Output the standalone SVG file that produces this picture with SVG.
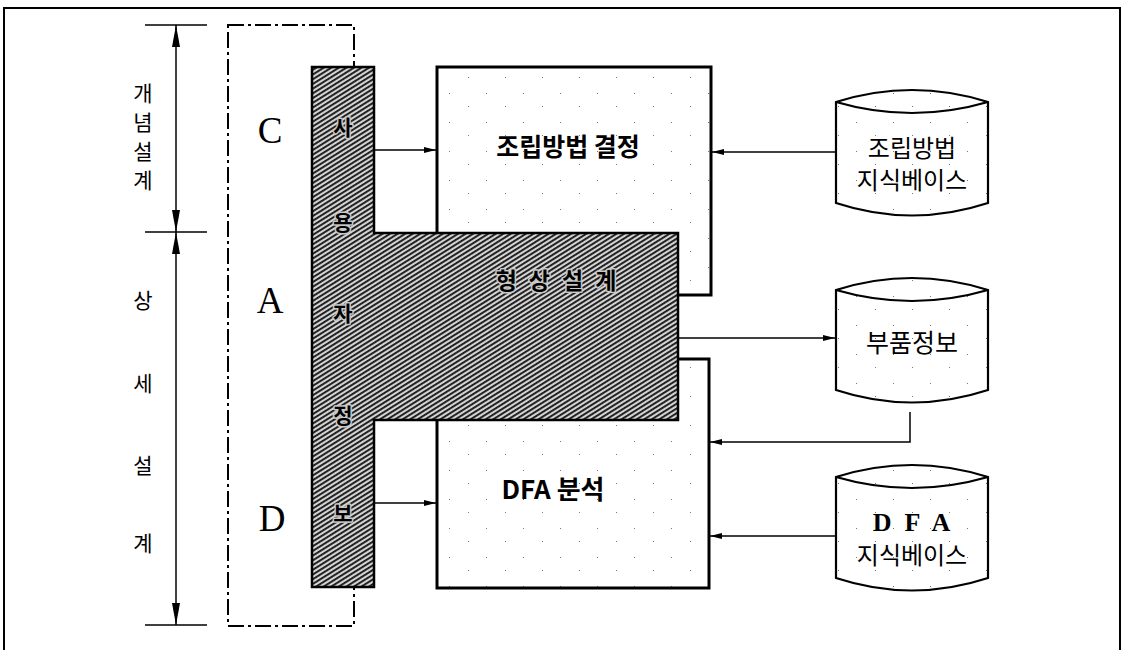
<svg xmlns="http://www.w3.org/2000/svg" width="1124" height="650" viewBox="0 0 1124 650">
<style>
.kr{font-family:"Noto Sans CJK KR","Noto Sans",sans-serif;fill:#000}
.krb{font-family:"Noto Sans CJK KR","Noto Sans",sans-serif;font-weight:bold;fill:#000}
.ser{font-family:"Liberation Serif","DejaVu Serif",serif;fill:#000}
.ln{stroke:#000;stroke-width:1.5;fill:none}
.box{stroke:#000;stroke-width:3;fill:url(#dots)}
.cyl{stroke:#000;stroke-width:2.2;fill:url(#dots)}
.dd{stroke:#000;stroke-width:2;fill:none;stroke-dasharray:16 4 3 4}
.halo{paint-order:stroke;stroke:#c8c8c8;stroke-width:3;stroke-linejoin:round}
</style>
<defs>
<pattern id="hatch" width="4" height="4" patternUnits="userSpaceOnUse" patternTransform="rotate(-32)">
<rect width="4" height="4" fill="#d4d4d4"/>
<rect width="4" height="1.9" fill="#1a1a1a"/>
</pattern>
<pattern id="dots" width="37" height="29" patternUnits="userSpaceOnUse">
<rect width="37" height="29" fill="#fff"/>
<rect x="5" y="6" width="1" height="1" fill="#777"/>
<rect x="24" y="19" width="1" height="1" fill="#777"/>
</pattern>
<marker id="ah" viewBox="0 0 12 8" refX="12" refY="4" markerWidth="12" markerHeight="8" markerUnits="userSpaceOnUse" orient="auto">
<path d="M0,1 L12,4 L0,7 Z" fill="#000"/>
</marker>
<marker id="dim" viewBox="0 0 22 8" refX="22" refY="4" markerWidth="22" markerHeight="8" markerUnits="userSpaceOnUse" orient="auto">
<path d="M0,4 L0,0 L22,4 L0,8 Z" fill="#000"/>
</marker>
</defs>
<rect width="1124" height="650" fill="#fff"/>
<path d="M4,660 L4,8 L1120,8 L1120,660" stroke="#000" stroke-width="2" fill="none"/>

<g id="dimension">
<line class="ln" x1="145" y1="25" x2="207" y2="25"/>
<line class="ln" x1="145" y1="232" x2="207" y2="232"/>
<line class="ln" x1="145" y1="625" x2="207" y2="625"/>
<line class="ln" x1="176" y1="128" x2="176" y2="25" marker-end="url(#dim)"/>
<line class="ln" x1="176" y1="128" x2="176" y2="232" marker-end="url(#dim)"/>
<line class="ln" x1="176" y1="430" x2="176" y2="232" marker-end="url(#dim)"/>
<line class="ln" x1="176" y1="430" x2="176" y2="625" marker-end="url(#dim)"/>
<g class="kr" font-size="21" text-anchor="middle">
<text x="143" y="101">개</text>
<text x="143" y="130">념</text>
<text x="143" y="159">설</text>
<text x="143" y="188">계</text>
<text x="143" y="308">상</text>
<text x="143" y="391">세</text>
<text x="143" y="473">설</text>
<text x="143" y="551">계</text>
</g>
</g>

<g id="phases">
<rect class="dd" x="228" y="25" width="126" height="601"/>
<g class="ser" font-size="37" text-anchor="middle">
<text x="270" y="143">C</text>
<text x="270" y="313">A</text>
<text x="272" y="531">D</text>
</g>
</g>

<g id="assembly-method">
<rect class="box" x="437" y="67" width="274" height="228"/>
<text class="krb" x="568" y="156" font-size="25" text-anchor="middle">조립방법 결정</text>
</g>

<g id="dfa-analysis">
<rect class="box" x="437" y="359" width="272" height="229"/>
<text class="krb" x="553" y="499" font-size="26" text-anchor="middle">DFA 분석</text>
</g>

<g id="user-info-shape-design">
<path d="M312,67 L374,67 L374,233 L678,233 L678,420 L374,420 L374,587 L312,587 Z" fill="url(#hatch)" stroke="#000" stroke-width="2.5"/>
<g class="krb halo" font-size="21" text-anchor="middle">
<text x="343" y="135">사</text>
<text x="343" y="230">용</text>
<text x="343" y="321">자</text>
<text x="343" y="423">정</text>
<text x="343" y="521">보</text>
</g>
<text class="krb halo" x="562" y="289" font-size="23" text-anchor="middle" letter-spacing="12">형상설계</text>
</g>

<g id="kb-assembly">
<path class="cyl" d="M836,102 Q912,78 988,102 L988,203 Q912,228 836,203 Z"/>
<path class="cyl" d="M836,102 Q912,124 988,102" fill="none"/>
<text class="kr" x="912" y="157" font-size="24" text-anchor="middle">조립방법</text>
<text class="kr" x="912" y="189" font-size="24" text-anchor="middle">지식베이스</text>
</g>

<g id="parts-info">
<path class="cyl" d="M836,290 Q912,266 988,290 L988,390 Q912,415 836,390 Z"/>
<path class="cyl" d="M836,290 Q912,312 988,290" fill="none"/>
<text class="kr" x="912" y="352" font-size="25" text-anchor="middle">부품정보</text>
</g>

<g id="kb-dfa">
<path class="cyl" d="M836,477 Q912,453 988,477 L988,578 Q912,603 836,578 Z"/>
<path class="cyl" d="M836,477 Q912,499 988,477" fill="none"/>
<text class="ser" x="918" y="531" font-size="26" text-anchor="middle" font-weight="bold" letter-spacing="13">DFA</text>
<text class="kr" x="912" y="564" font-size="24" text-anchor="middle">지식베이스</text>
</g>

<g id="connectors" stroke="#000" stroke-width="1.5" fill="none">
<line x1="374" y1="150" x2="436" y2="150" marker-end="url(#ah)"/>
<line x1="374" y1="503" x2="436" y2="503" marker-end="url(#ah)"/>
<line x1="836" y1="152" x2="712" y2="152" marker-end="url(#ah)"/>
<line x1="678" y1="338" x2="835" y2="338" marker-end="url(#ah)"/>
<polyline points="910,412 910,442 710,442" marker-end="url(#ah)"/>
<line x1="836" y1="536" x2="710" y2="536" marker-end="url(#ah)"/>
</g>
</svg>
